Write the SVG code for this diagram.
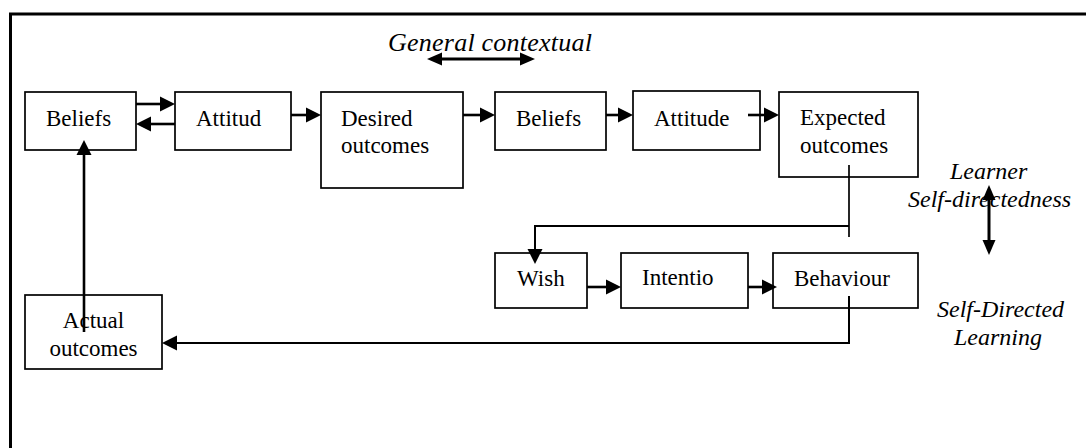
<svg xmlns="http://www.w3.org/2000/svg" width="1086" height="448" viewBox="0 0 1086 448">
  <style>
    .frame { fill: none; stroke: #000; stroke-width: 3; }
    .box { fill: #fff; stroke: #000; stroke-width: 1.7; }
    .lbl { font-family: "Liberation Serif", "Times New Roman", serif; font-size: 23px; fill: #000; }
    .note { font-family: "Liberation Serif", "Times New Roman", serif; font-size: 24px; font-style: italic; fill: #000; }
    .link { fill: none; stroke: #000; stroke-width: 2.6; marker-end: url(#head); }
    .thin { fill: none; stroke: #000; stroke-width: 1.7; }
    .both { fill: none; stroke: #000; stroke-width: 3; marker-start: url(#head2); marker-end: url(#head2); }
  </style>
  <defs>
    <!-- arrowhead whose base sits on the line end -->
    <marker id="head" viewBox="0 -8 16 16" refX="0" refY="0" markerWidth="16" markerHeight="16" markerUnits="userSpaceOnUse" orient="auto">
      <path d="M0,-7.5 L15,0 L0,7.5 z" fill="#000"/>
    </marker>
    <marker id="head2" viewBox="0 -8 16 16" refX="0" refY="0" markerWidth="16" markerHeight="16" markerUnits="userSpaceOnUse" orient="auto-start-reverse">
      <path d="M0,-6.5 L15,0 L0,6.5 z" fill="#000"/>
    </marker>
  </defs>
  <rect width="1086" height="448" fill="#fff"/>

  <!-- outer frame: top and left edges -->
  <path class="frame" d="M10.5,448 V14 H1086"/>

  <!-- free labels -->
  <text class="note" x="388" y="51" style="font-size:26px" textLength="204" lengthAdjust="spacing">General contextual</text>
  <text class="note" x="950" y="179">Learner</text>
  <text class="note" x="908" y="207">Self-directedness</text>
  <text class="note" x="937" y="317">Self-Directed</text>
  <text class="note" x="954" y="345">Learning</text>

  <g id="beliefs1">
    <rect class="box" x="25" y="92" width="111" height="58"/>
    <text class="lbl" x="46" y="126">Beliefs</text>
  </g>
  <g id="attitud">
    <rect class="box" x="175" y="92" width="116" height="58"/>
    <text class="lbl" x="196" y="126">Attitud</text>
  </g>
  <g id="desired">
    <rect class="box" x="321" y="92" width="142" height="96"/>
    <text class="lbl" x="341" y="126">Desired</text>
    <text class="lbl" x="341" y="153">outcomes</text>
  </g>
  <g id="beliefs2">
    <rect class="box" x="495" y="92" width="111" height="58"/>
    <text class="lbl" x="516" y="126">Beliefs</text>
  </g>
  <g id="attitude">
    <rect class="box" x="633" y="91" width="127" height="59"/>
    <text class="lbl" x="654" y="126">Attitude</text>
  </g>
  <g id="expected">
    <rect class="box" x="779" y="92" width="139" height="85"/>
    <text class="lbl" x="800" y="125">Expected</text>
    <text class="lbl" x="800" y="153">outcomes</text>
  </g>
  <g id="wish">
    <rect class="box" x="495" y="253" width="92" height="55"/>
    <text class="lbl" x="517" y="286">Wish</text>
  </g>
  <g id="intention">
    <rect class="box" x="621" y="253" width="127" height="55"/>
    <text class="lbl" x="642" y="285">Intentio</text>
  </g>
  <g id="behaviour">
    <rect class="box" x="773" y="253" width="145" height="55"/>
    <text class="lbl" x="794" y="286">Behaviour</text>
  </g>
  <g id="actual">
    <rect class="box" x="25" y="295" width="137" height="74"/>
    <text class="lbl" x="93.5" y="328" text-anchor="middle">Actual</text>
    <text class="lbl" x="93.5" y="356" text-anchor="middle">outcomes</text>
  </g>

  <g id="connectors">
    <path class="link" d="M136,104 H160"/>
    <path class="link" d="M175,124 H151"/>
    <path class="link" d="M291,115 H306"/>
    <path class="link" d="M463,115 H480"/>
    <path class="link" d="M606,115 H618"/>
    <path class="link" d="M748,115 H764"/>
    <path class="thin" d="M849,165 V237"/>
    <path class="link" style="stroke-width:2" d="M849,226 H535 V249"/>
    <path class="link" d="M587,287 H606"/>
    <path class="link" d="M748,287 H762"/>
    <path class="link" style="stroke-width:2" d="M849,296 V343 H177"/>
    <path class="link" d="M84,332 V155"/>
    <path class="both" d="M442,59 H520"/>
    <path class="both" d="M989,200 V240"/>
  </g>
</svg>
